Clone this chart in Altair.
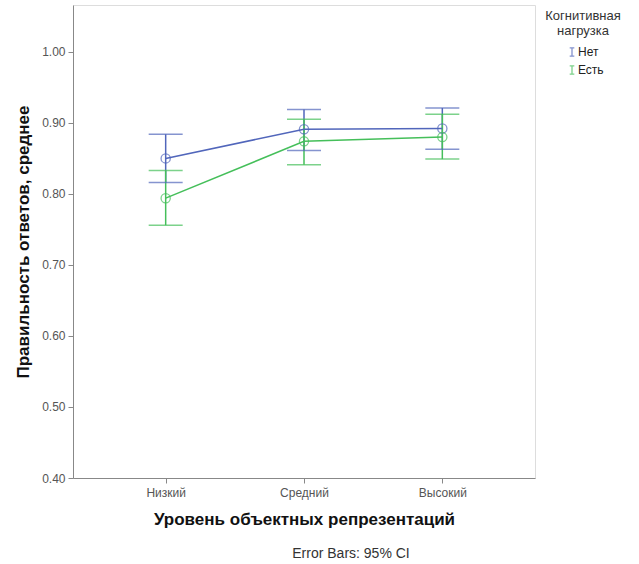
import altair as alt
import pandas as pd

levels = ["Низкий", "Средний", "Высокий"]
groups = ["Нет", "Есть"]

mean_net = [0.850, 0.891, 0.892]
lo_net = [0.816, 0.861, 0.863]
hi_net = [0.884, 0.919, 0.921]

mean_est = [0.794, 0.874, 0.880]
lo_est = [0.756, 0.841, 0.849]
hi_est = [0.833, 0.905, 0.912]

y_ticks = [0.40, 0.50, 0.60, 0.70, 0.80, 0.90, 1.00]
note = "Error Bars: 95% CI"

rows = []
for g, m, lo, hi in [("Нет", mean_net, lo_net, hi_net), ("Есть", mean_est, lo_est, hi_est)]:
    for i, lev in enumerate(levels):
        rows.append({"level": lev, "group": g, "mean": m[i], "lo": lo[i], "hi": hi[i]})
df = pd.DataFrame(rows)

BLUE = "#5166bb"
GREEN = "#45bf5a"
FONT = "Liberation Sans"

x_enc = alt.X(
    "level:N", sort=levels,
    scale=alt.Scale(type="point", padding=0.67),
    axis=alt.Axis(title="Уровень объектных репрезентаций", labelAngle=0, grid=False,
                  labelFontSize=12, labelColor="#555", labelFont=FONT,
                  titleFontWeight="bold", titleFontSize=17, titleColor="#111",
                  titlePadding=13, labelPadding=4),
)
y_scale = alt.Scale(domain=[0.4, 1.066], nice=False, zero=False)
color_enc = alt.Color(
    "group:N", sort=groups,
    scale=alt.Scale(domain=groups, range=[BLUE, GREEN]),
    legend=alt.Legend(
        title=["Когнитивная", "нагрузка"], orient="none", legendX=472, legendY=5,
        titleAnchor="middle", titleAlign="center", titleFontSize=13,
        titleFontWeight="normal", titleColor="#333", titleFont=FONT,
        titlePadding=8, labelFontSize=12, labelColor="#222", labelFont=FONT,
        symbolType="M-0.55,-1H0.55M0,-1V1M-0.55,1H0.55",
        symbolSize=70, symbolStrokeWidth=1.3, symbolOffset=3, labelOffset=0,
        rowPadding=4, padding=0,
    ),
)

base = alt.Chart(df).encode(x=x_enc, color=color_enc)

line = base.mark_line(strokeWidth=1.5).encode(
    y=alt.Y("mean:Q", scale=y_scale,
            axis=alt.Axis(title="Правильность ответов, среднее", values=y_ticks,
                          format=".2f", grid=False, labelFontSize=12, labelColor="#555",
                          labelFont=FONT, titleFontWeight="bold", titleFontSize=17,
                          titleColor="#111", titlePadding=9, labelPadding=3))
)
points = base.mark_point(shape="circle", filled=False, size=85, strokeWidth=1.3).encode(
    y=alt.Y("mean:Q", scale=y_scale)
)
rules = base.mark_rule(strokeWidth=1.5).encode(
    y=alt.Y("lo:Q", scale=y_scale), y2="hi:Q"
)
cap_lo = base.mark_tick(orient="horizontal", size=34, thickness=1.5).encode(
    y=alt.Y("lo:Q", scale=y_scale)
)
cap_hi = base.mark_tick(orient="horizontal", size=34, thickness=1.5).encode(
    y=alt.Y("hi:Q", scale=y_scale)
)

note_layer = alt.Chart(pd.DataFrame({"t": [note]})).mark_text(
    fontSize=14, font=FONT, color="#333", align="center", baseline="middle"
).encode(text="t:N", x=alt.value(278), y=alt.value(549))

chart = alt.layer(rules, cap_lo, cap_hi, line, points, note_layer).properties(
    width=462, height=473,
    autosize=alt.AutoSizeParams(type="none"),
    padding={"left": 73, "top": 5, "right": 104, "bottom": 86},
).configure_view(
    stroke="#6b6b6b", strokeWidth=2
).configure_axis(
    grid=False, domainColor="#6b6b6b", domainWidth=2, tickColor="#6b6b6b",
    tickSize=6, tickWidth=1.2, labelFont=FONT, titleFont=FONT,
    labelFontSize=12, labelColor="#555",
).configure(background="white")

chart.save("out.html", embed_options={"renderer": "svg", "actions": False})
